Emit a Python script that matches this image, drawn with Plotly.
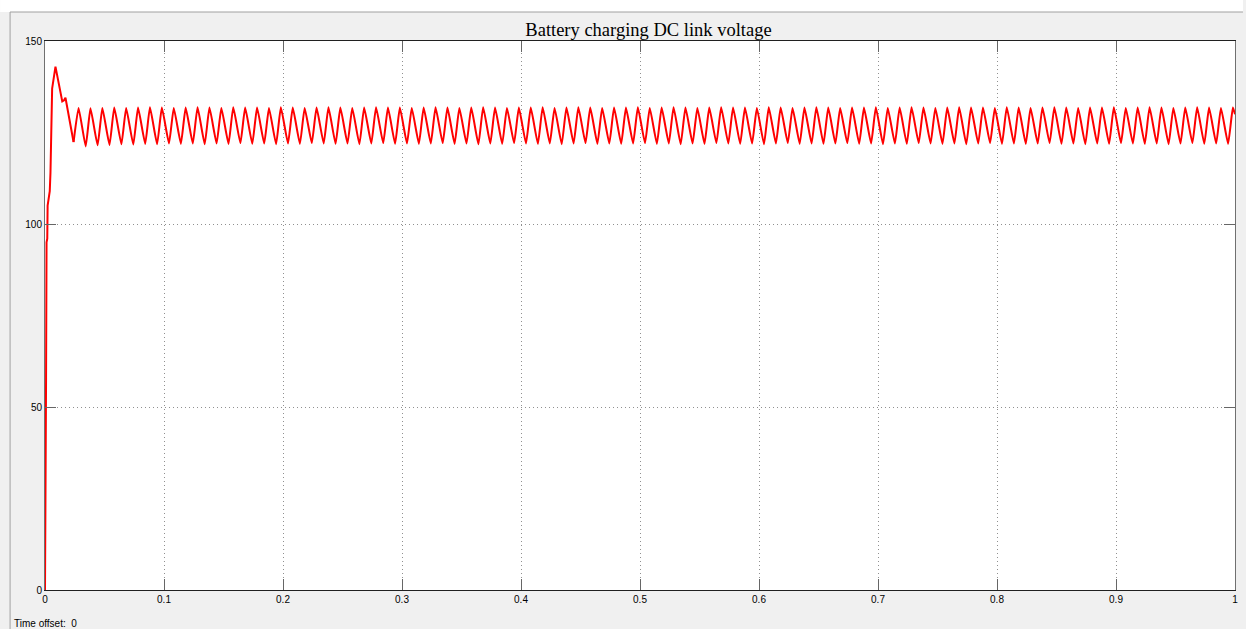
import plotly.graph_objects as go

# ---------------- data ----------------
title_text = "Battery charging DC link voltage"

# start-up transient
transient_t = [0.0, 0.0004, 0.0009, 0.0013, 0.0019, 0.0022, 0.0030, 0.0040,
               0.0046, 0.0060, 0.0088, 0.0145, 0.0160, 0.0172, 0.0240]
transient_v = [0.0, 17.0, 58.0, 95.0, 96.0, 105.0, 107.0, 109.0,
               114.0, 137.0, 143.0, 133.5, 133.8, 134.5, 122.4]

# ripple peaks (time, value)
peak_t = [0.0282, 0.0382, 0.0482, 0.0582, 0.0682, 0.0782, 0.0882, 0.0982, 0.1082, 0.1182,
          0.1282, 0.1382, 0.1482, 0.1582, 0.1682, 0.1782, 0.1882, 0.1982, 0.2082, 0.2182,
          0.2282, 0.2382, 0.2482, 0.2582, 0.2682, 0.2782, 0.2882, 0.2982, 0.3082, 0.3182,
          0.3282, 0.3382, 0.3482, 0.3582, 0.3682, 0.3782, 0.3882, 0.3982, 0.4082, 0.4182,
          0.4282, 0.4382, 0.4482, 0.4582, 0.4682, 0.4782, 0.4882, 0.4982, 0.5082, 0.5182,
          0.5282, 0.5382, 0.5482, 0.5582, 0.5682, 0.5782, 0.5882, 0.5982, 0.6082, 0.6182,
          0.6282, 0.6382, 0.6482, 0.6582, 0.6682, 0.6782, 0.6882, 0.6982, 0.7082, 0.7182,
          0.7282, 0.7382, 0.7482, 0.7582, 0.7682, 0.7782, 0.7882, 0.7982, 0.8082, 0.8182,
          0.8282, 0.8382, 0.8482, 0.8582, 0.8682, 0.8782, 0.8882, 0.8982, 0.9082, 0.9182,
          0.9282, 0.9382, 0.9482, 0.9582, 0.9682, 0.9782, 0.9882, 0.9982]
peak_v = [131.7, 131.6, 131.7, 131.8, 131.7, 131.8, 131.9, 131.8, 131.7, 131.8,
          131.9, 131.8, 131.7, 131.9, 131.8, 131.8, 131.7, 131.9, 131.8, 131.7,
          131.8, 131.9, 131.8, 131.7, 131.8, 131.9, 131.8, 131.8, 131.7, 131.8,
          131.9, 131.8, 131.7, 131.8, 131.9, 131.8, 131.7, 131.8, 131.8, 131.9,
          131.7, 131.8, 131.9, 131.8, 131.7, 131.8, 131.8, 131.9, 131.7, 131.8,
          131.9, 131.8, 131.7, 131.8, 131.9, 131.8, 131.8, 131.7, 131.9, 131.8,
          131.7, 131.8, 131.9, 131.8, 131.7, 131.8, 131.8, 131.9, 131.7, 131.8,
          131.9, 131.8, 131.7, 131.8, 131.9, 131.8, 131.8, 131.7, 131.9, 131.8,
          131.7, 131.8, 131.9, 131.8, 131.7, 131.8, 131.8, 131.9, 131.7, 131.8,
          131.9, 131.8, 131.7, 131.8, 131.9, 131.8, 131.7, 131.8]

# ripple troughs (time, value)
trough_t = [0.0342, 0.0442, 0.0542, 0.0642, 0.0742, 0.0842, 0.0942, 0.1042, 0.1142, 0.1242,
            0.1342, 0.1442, 0.1542, 0.1642, 0.1742, 0.1842, 0.1942, 0.2042, 0.2142, 0.2242,
            0.2342, 0.2442, 0.2542, 0.2642, 0.2742, 0.2842, 0.2942, 0.3042, 0.3142, 0.3242,
            0.3342, 0.3442, 0.3542, 0.3642, 0.3742, 0.3842, 0.3942, 0.4042, 0.4142, 0.4242,
            0.4342, 0.4442, 0.4542, 0.4642, 0.4742, 0.4842, 0.4942, 0.5042, 0.5142, 0.5242,
            0.5342, 0.5442, 0.5542, 0.5642, 0.5742, 0.5842, 0.5942, 0.6042, 0.6142, 0.6242,
            0.6342, 0.6442, 0.6542, 0.6642, 0.6742, 0.6842, 0.6942, 0.7042, 0.7142, 0.7242,
            0.7342, 0.7442, 0.7542, 0.7642, 0.7742, 0.7842, 0.7942, 0.8042, 0.8142, 0.8242,
            0.8342, 0.8442, 0.8542, 0.8642, 0.8742, 0.8842, 0.8942, 0.9042, 0.9142, 0.9242,
            0.9342, 0.9442, 0.9542, 0.9642, 0.9742, 0.9842, 0.9942]
trough_v = [121.2, 121.5, 121.6, 121.8, 121.7, 121.9, 121.8, 122.0, 121.9, 122.0,
            121.8, 122.0, 121.9, 122.1, 121.9, 122.0, 121.8, 122.0, 121.9, 122.1,
            122.0, 121.9, 122.0, 121.8, 122.0, 122.1, 121.9, 122.0, 121.9, 122.0,
            122.1, 121.9, 122.0, 121.8, 122.0, 121.9, 122.1, 122.0, 121.9, 122.0,
            121.8, 122.0, 122.1, 121.9, 122.0, 121.9, 122.0, 122.1, 121.9, 122.0,
            121.8, 122.0, 121.9, 122.1, 122.0, 121.9, 122.0, 121.8, 122.0, 122.1,
            121.9, 122.0, 121.9, 122.0, 122.1, 121.9, 122.0, 121.8, 122.0, 121.9,
            122.1, 122.0, 121.9, 122.0, 121.8, 122.0, 122.1, 121.9, 122.0, 121.9,
            122.0, 122.1, 121.9, 122.0, 121.8, 122.0, 121.9, 122.1, 122.0, 121.9,
            122.0, 121.8, 122.0, 122.1, 121.9, 122.0, 121.9]

end_t = [1.0]
end_v = [130.0]

x_tickvals = [0, 0.1, 0.2, 0.3, 0.4, 0.5, 0.6, 0.7, 0.8, 0.9, 1]
x_ticktext = ["0", "0.1", "0.2", "0.3", "0.4", "0.5", "0.6", "0.7", "0.8", "0.9", "1"]
y_tickvals = [0, 50, 100, 150]
y_ticktext = ["0", "50", "100", "150"]

# ---------------- assemble the traces ----------------
ripple = sorted(list(zip(peak_t, peak_v)) + list(zip(trough_t, trough_v)))
rip_t = [transient_t[-1]] + [p[0] for p in ripple] + end_t
rip_v = [transient_v[-1]] + [p[1] for p in ripple] + end_v

fig = go.Figure()
fig.add_trace(go.Scatter(x=transient_t, y=transient_v, mode="lines",
                         line=dict(color="#ff0000", width=2),
                         hoverinfo="skip", showlegend=False))
fig.add_trace(go.Scatter(x=rip_t, y=rip_v, mode="lines",
                         line=dict(color="#ff0000", width=2, shape="spline", smoothing=0.4),
                         hoverinfo="skip", showlegend=False))

# plot area geometry in pixels
W, H = 1246, 629
L, R, T, B = 45, 1238, 41, 590
pw, ph = R - L, B - T

def xp(px):
    return (px - L) / pw

def yp(py):
    return (B - py) / ph

shapes = [
    dict(type="rect", xref="paper", yref="paper", x0=xp(0), x1=xp(W), y0=yp(12), y1=yp(0),
         fillcolor="white", line=dict(width=0), layer="below"),
    dict(type="line", xref="paper", yref="paper", x0=xp(10), x1=xp(W), y0=yp(12), y1=yp(12),
         line=dict(color="#a0a0a0", width=1)),
    dict(type="line", xref="paper", yref="paper", x0=xp(10), x1=xp(10), y0=yp(12), y1=yp(H),
         line=dict(color="#a0a0a0", width=1)),
]

axis_font = dict(family="Liberation Sans, Arial, sans-serif", size=10, color="#000000")

fig.update_layout(
    width=W, height=H,
    margin=dict(l=L, r=W - R, t=T, b=H - B, pad=0),
    paper_bgcolor="#f0f0f0",
    plot_bgcolor="#ffffff",
    showlegend=False,
    title=dict(text=title_text, x=xp(650), xref="paper", xanchor="center",
               y=1 - 30 / H, yref="container", yanchor="middle",
               font=dict(family="Liberation Serif, Times New Roman, serif", size=18.5, color="#000000")),
    shapes=shapes,
    annotations=[dict(text="Time offset:  0", xref="paper", yref="paper",
                      x=xp(12), y=yp(623), xanchor="left", yanchor="middle",
                      showarrow=False, font=dict(family="Liberation Sans, Arial, sans-serif",
                                                 size=10, color="#000000"))],
    xaxis=dict(range=[0, 1], tickmode="array", tickvals=x_tickvals, ticktext=x_ticktext,
               ticks="inside", ticklen=11, tickcolor="#666666", tickwidth=1,
               showline=True, linecolor="#202020", linewidth=1, mirror="ticks",
               showgrid=True, gridcolor="#909090", gridwidth=1, griddash="1px,3px",
               zeroline=False, tickfont=axis_font, fixedrange=True),
    yaxis=dict(range=[0, 150], tickmode="array", tickvals=y_tickvals, ticktext=y_ticktext,
               ticks="inside", ticklen=11, tickcolor="#666666", tickwidth=1,
               showline=True, linecolor="#707070", linewidth=1, mirror="ticks",
               showgrid=True, gridcolor="#909090", gridwidth=1, griddash="1px,3px",
               zeroline=False, tickfont=axis_font, fixedrange=True),
)

fig.write_html("out.html", config={"displayModeBar": False})
